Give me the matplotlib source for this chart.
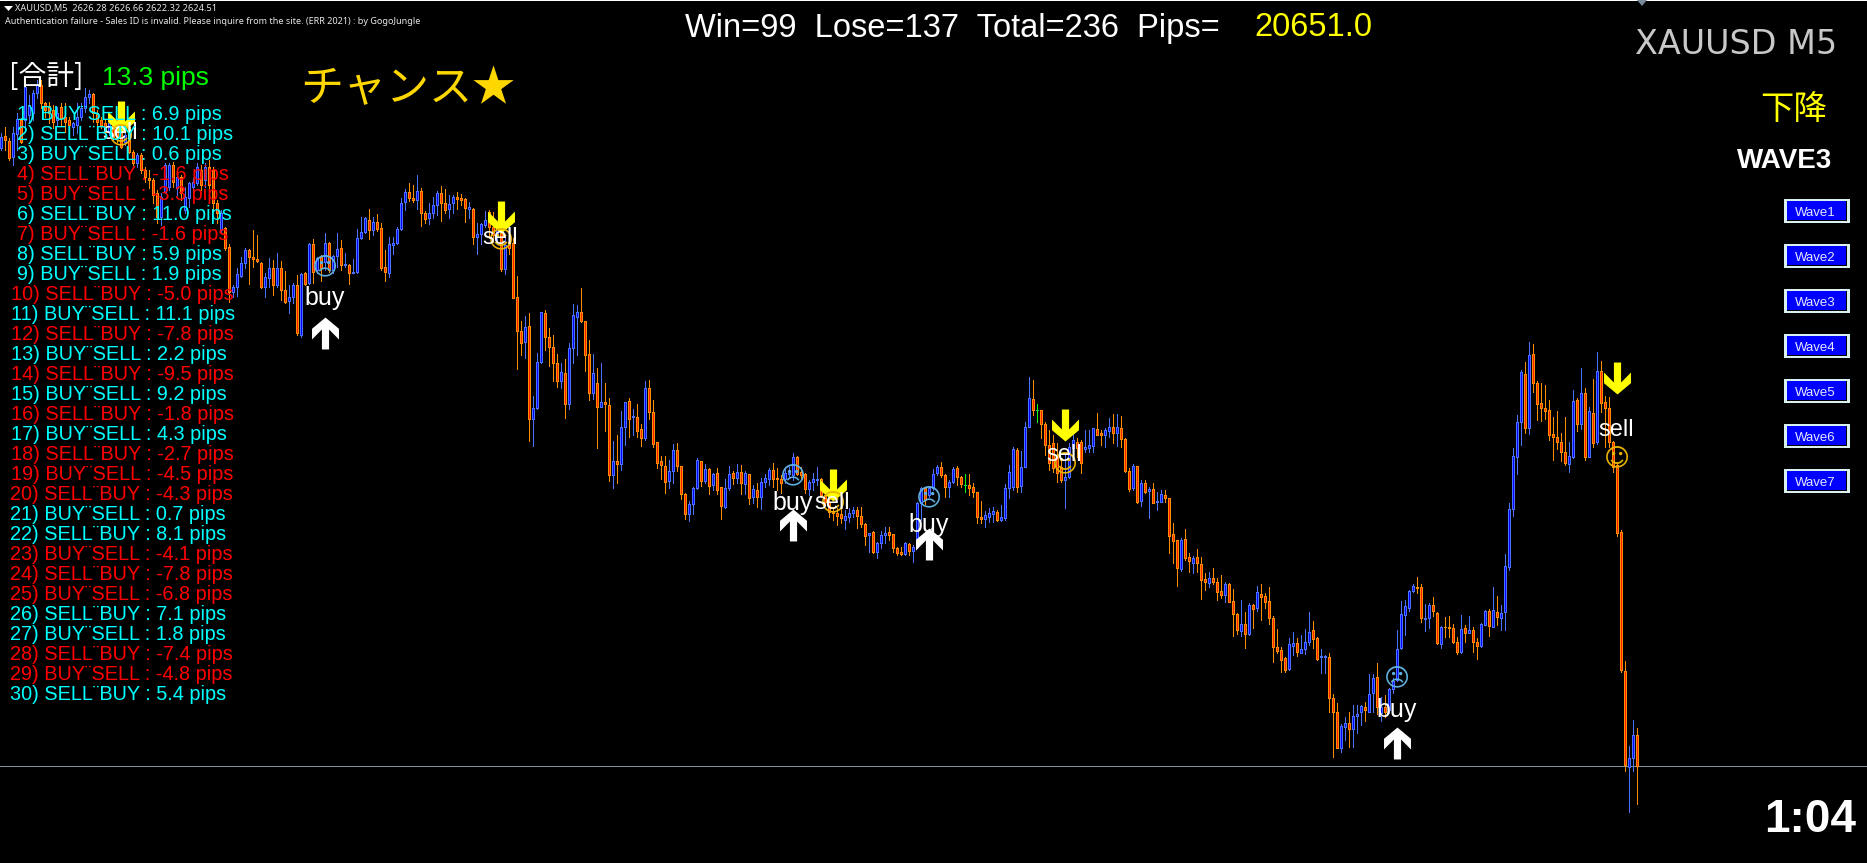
import matplotlib
matplotlib.use('Agg')
import numpy as np
import matplotlib.pyplot as plt
from matplotlib.patches import Rectangle, Polygon

# XAUUSD M5 candles, one value per bar (10 per row)
opens = [
    2659.81, 2660.52, 2660.25, 2659.34, 2660.63, 2661.43, 2661.43, 2661.72, 2661.83, 2662.96,
    2663.43, 2662.39, 2662.23, 2662.0, 2661.43, 2662.19, 2661.62, 2661.43, 2661.01, 2661.15,
    2661.62, 2662.1, 2662.73, 2662.92, 2661.81, 2661.43, 2661.24, 2660.77, 2661.15, 2661.15,
    2660.77, 2660.19, 2661.05, 2659.62, 2658.96, 2659.43, 2658.58, 2658.1, 2658.0, 2657.24,
    2655.91, 2657.34, 2657.62, 2658.86, 2657.53, 2658.2, 2656.29, 2656.96, 2657.62, 2657.81,
    2658.58, 2658.0, 2658.77, 2658.58, 2656.67, 2655.14, 2655.24, 2654.19, 2651.62, 2651.9,
    2652.52, 2653.24, 2654.0, 2653.58, 2653.5, 2653.28, 2651.9, 2652.38, 2653.0, 2652.0,
    2653.0, 2651.71, 2651.1, 2651.29, 2652.0, 2649.14, 2652.67, 2652.09, 2654.34, 2652.86,
    2653.62, 2653.33, 2654.42, 2652.85, 2653.66, 2654.09, 2653.14, 2653.14, 2652.71, 2652.76,
    2654.7, 2655.05, 2655.71, 2655.14, 2655.62, 2655.24, 2653.05, 2652.7, 2654.3, 2654.38,
    2655.18, 2656.72, 2657.29, 2656.95, 2656.85, 2657.39, 2656.14, 2655.85, 2656.09, 2656.57,
    2657.28, 2656.71, 2656.32, 2656.71, 2657.05, 2656.95, 2656.9, 2656.37, 2656.32, 2654.72,
    2654.91, 2655.43, 2656.19, 2655.33, 2654.76, 2654.95, 2652.9, 2654.47, 2654.42, 2651.3,
    2649.39, 2648.76, 2649.66, 2644.33, 2644.96, 2647.62, 2650.38, 2649.01, 2648.44, 2647.53,
    2646.54, 2646.96, 2645.2, 2648.42, 2650.19, 2650.44, 2649.93, 2648.04, 2645.85, 2646.38,
    2645.05, 2645.3, 2645.13, 2641.16, 2641.93, 2641.79, 2643.91, 2645.36, 2644.44, 2644.44,
    2643.76, 2643.28, 2646.1, 2644.73, 2643.01, 2641.93, 2641.64, 2640.82, 2641.39, 2642.56,
    2641.64, 2640.04, 2638.94, 2639.47, 2640.42, 2641.93, 2640.82, 2641.47, 2640.59, 2641.24,
    2640.44, 2639.33, 2640.38, 2641.24, 2640.99, 2641.32, 2640.65, 2641.18, 2639.87, 2640.28,
    2639.9, 2640.76, 2640.93, 2641.43, 2640.95, 2640.89, 2640.89, 2641.2, 2641.14, 2642.15,
    2641.33, 2641.2, 2640.32, 2640.76, 2640.86, 2640.89, 2639.99, 2639.62, 2639.05, 2638.95,
    2638.89, 2638.57, 2638.76, 2638.99, 2639.14, 2638.8, 2638.34, 2637.71, 2637.9, 2636.72,
    2637.24, 2637.71, 2637.87, 2637.75, 2636.99, 2636.72, 2636.63, 2637.2, 2636.82, 2637.05,
    2639.52, 2640.42, 2640.0, 2640.38, 2641.24, 2641.58, 2641.14, 2640.47, 2640.76, 2641.52,
    2641.05, 2640.57, 2640.57, 2640.44, 2640.19, 2638.72, 2638.61, 2638.76, 2638.89, 2639.01,
    2638.57, 2638.67, 2640.38, 2640.44, 2642.57, 2640.51, 2641.62, 2643.9, 2645.47, 2644.86,
    2644.86, 2644.06, 2642.86, 2642.95, 2642.28, 2641.62, 2640.86, 2641.05, 2642.67, 2643.05,
    2643.05, 2642.61, 2642.67, 2642.82, 2643.75, 2643.56, 2643.43, 2643.67, 2643.87, 2643.52,
    2643.81, 2643.18, 2641.39, 2640.38, 2641.66, 2639.68, 2640.67, 2640.23, 2640.33, 2639.6,
    2639.62, 2640.0, 2639.81, 2637.76, 2637.43, 2635.77, 2637.47, 2636.44, 2636.14, 2636.44,
    2636.04, 2635.18, 2634.99, 2635.24, 2635.03, 2634.52, 2634.29, 2634.9, 2633.95, 2633.18,
    2632.25, 2632.61, 2632.06, 2633.7, 2633.56, 2634.33, 2634.25, 2633.93, 2632.96, 2631.3,
    2631.13, 2630.67, 2630.04, 2631.39, 2631.53, 2630.99, 2631.18, 2631.62, 2632.27, 2631.81,
    2630.73, 2630.73, 2630.73, 2628.42, 2627.58, 2625.56, 2626.77, 2626.96, 2626.61, 2627.39,
    2627.58, 2627.87, 2627.62, 2628.67, 2629.58, 2627.53, 2627.91, 2627.72, 2628.9, 2629.43,
    2631.24, 2633.15, 2633.56, 2634.54, 2634.76, 2634.73, 2632.9, 2632.96, 2633.72, 2633.28,
    2631.49, 2632.48, 2632.44, 2632.38, 2631.58, 2631.05, 2632.38, 2632.1, 2632.29, 2631.62,
    2631.37, 2632.57, 2633.37, 2632.48, 2633.34, 2632.99, 2633.3, 2635.91, 2639.18, 2642.19,
    2644.16, 2646.9, 2643.81, 2648.04, 2646.38, 2645.24, 2644.95, 2644.84, 2643.47, 2643.34,
    2643.01, 2642.44, 2641.77, 2642.19, 2645.41, 2644.06, 2645.81, 2642.19, 2644.67, 2643.03,
    2647.07, 2645.3, 2644.99, 2643.05, 2641.72, 2637.89, 2629.94, 2624.46, 2624.97, 2626.28,
]
highs = [
    2660.67, 2661.05, 2660.38, 2661.05, 2661.81, 2661.53, 2663.91, 2662.86, 2663.15, 2663.72,
    2663.72, 2662.48, 2662.48, 2662.29, 2662.19, 2662.38, 2662.38, 2661.62, 2661.34, 2662.38,
    2662.38, 2663.24, 2663.15, 2663.0, 2662.0, 2661.62, 2661.43, 2661.43, 2661.34, 2661.43,
    2661.05, 2661.15, 2661.15, 2659.72, 2659.53, 2659.53, 2658.77, 2658.58, 2658.1, 2657.43,
    2657.24, 2658.96, 2658.96, 2659.05, 2658.58, 2658.29, 2657.62, 2657.91, 2658.1, 2658.96,
    2658.86, 2658.96, 2659.15, 2658.77, 2656.86, 2656.28, 2655.33, 2654.34, 2652.0, 2652.95,
    2653.58, 2654.09, 2654.05, 2655.14, 2654.86, 2653.33, 2652.67, 2653.52, 2653.43, 2653.85,
    2653.38, 2652.8, 2652.0, 2652.09, 2652.57, 2652.67, 2652.76, 2654.42, 2654.61, 2653.62,
    2653.71, 2654.95, 2654.47, 2653.71, 2654.95, 2654.57, 2653.81, 2653.2, 2653.47, 2655.18,
    2655.86, 2655.86, 2656.32, 2655.9, 2656.05, 2655.52, 2654.0, 2654.76, 2654.76, 2655.33,
    2656.95, 2657.47, 2657.81, 2657.71, 2658.28, 2657.52, 2656.25, 2656.71, 2657.05, 2657.39,
    2657.66, 2657.47, 2657.14, 2657.14, 2657.33, 2657.2, 2656.95, 2656.76, 2656.38, 2655.52,
    2655.52, 2656.25, 2656.28, 2656.19, 2655.52, 2655.52, 2654.85, 2654.95, 2654.66, 2652.52,
    2649.95, 2650.23, 2650.38, 2645.66, 2648.1, 2650.48, 2650.57, 2649.53, 2649.15, 2648.06,
    2647.56, 2647.77, 2648.67, 2650.92, 2650.86, 2651.81, 2649.95, 2648.86, 2648.06, 2647.26,
    2647.53, 2646.38, 2645.53, 2643.09, 2643.43, 2644.8, 2645.3, 2645.53, 2644.9, 2645.2,
    2644.06, 2646.52, 2646.57, 2645.43, 2643.01, 2642.23, 2642.23, 2642.0, 2642.92, 2642.97,
    2641.64, 2640.1, 2639.66, 2640.46, 2642.12, 2641.93, 2641.76, 2641.55, 2641.26, 2641.55,
    2640.44, 2640.92, 2641.64, 2641.39, 2641.76, 2641.7, 2641.36, 2641.18, 2640.57, 2640.67,
    2640.95, 2641.18, 2641.52, 2641.81, 2641.52, 2641.14, 2641.52, 2641.58, 2642.42, 2642.23,
    2641.58, 2641.24, 2640.85, 2641.24, 2641.58, 2640.95, 2640.47, 2639.9, 2639.33, 2639.24,
    2639.24, 2639.14, 2639.24, 2639.33, 2639.33, 2639.33, 2638.38, 2637.85, 2637.96, 2637.33,
    2637.96, 2638.15, 2638.15, 2637.77, 2637.05, 2637.05, 2637.33, 2637.24, 2637.14, 2639.62,
    2640.47, 2640.47, 2640.47, 2641.47, 2641.71, 2641.9, 2641.2, 2640.85, 2641.62, 2641.66,
    2641.09, 2641.2, 2641.2, 2640.67, 2640.19, 2639.67, 2639.1, 2639.24, 2639.33, 2639.14,
    2639.43, 2640.63, 2641.71, 2642.76, 2642.67, 2642.53, 2644.19, 2646.76, 2646.57, 2645.2,
    2644.86, 2644.19, 2643.71, 2643.43, 2642.95, 2642.0, 2642.38, 2642.95, 2643.62, 2643.24,
    2643.14, 2643.71, 2643.71, 2643.81, 2644.7, 2643.71, 2643.81, 2644.38, 2644.62, 2644.62,
    2644.51, 2643.24, 2641.52, 2641.77, 2641.66, 2640.86, 2640.86, 2640.44, 2640.67, 2640.19,
    2640.29, 2640.29, 2639.81, 2638.38, 2637.43, 2637.53, 2638.04, 2636.67, 2636.52, 2636.9,
    2636.44, 2635.53, 2635.58, 2635.81, 2635.24, 2635.43, 2635.05, 2634.95, 2634.63, 2633.24,
    2634.0, 2633.32, 2633.81, 2633.77, 2634.8, 2634.92, 2634.38, 2634.73, 2633.09, 2632.35,
    2631.3, 2630.76, 2631.81, 2632.16, 2631.81, 2632.0, 2632.35, 2633.32, 2632.8, 2631.87,
    2631.18, 2630.86, 2630.96, 2628.63, 2628.1, 2626.9, 2627.34, 2627.58, 2628.0, 2628.0,
    2628.0, 2628.19, 2629.76, 2629.76, 2630.38, 2628.48, 2628.57, 2628.96, 2629.53, 2632.29,
    2633.95, 2634.0, 2634.57, 2634.92, 2635.3, 2634.92, 2633.77, 2633.81, 2634.15, 2633.34,
    2632.52, 2633.05, 2633.11, 2632.63, 2631.87, 2633.15, 2632.57, 2633.11, 2632.44, 2631.81,
    2632.67, 2633.43, 2633.47, 2634.73, 2634.23, 2633.72, 2636.63, 2639.53, 2642.67, 2644.57,
    2647.15, 2647.6, 2648.75, 2648.63, 2646.52, 2646.38, 2646.29, 2645.43, 2644.44, 2644.8,
    2643.56, 2644.44, 2643.03, 2646.0, 2645.53, 2647.24, 2646.1, 2645.01, 2646.61, 2648.17,
    2647.66, 2645.66, 2645.58, 2643.11, 2641.81, 2638.0, 2630.51, 2625.66, 2627.14, 2626.66,
]
lows = [
    2659.72, 2659.72, 2659.15, 2658.86, 2659.72, 2660.1, 2660.86, 2661.24, 2661.43, 2662.67,
    2662.1, 2661.62, 2661.24, 2660.96, 2661.15, 2661.15, 2660.77, 2660.58, 2660.58, 2660.67,
    2661.43, 2661.91, 2662.39, 2661.34, 2661.15, 2660.96, 2660.48, 2660.58, 2660.29, 2660.19,
    2659.81, 2660.0, 2659.53, 2658.86, 2658.77, 2658.39, 2657.91, 2657.53, 2656.67, 2655.53,
    2655.43, 2657.24, 2657.43, 2657.62, 2656.96, 2656.86, 2656.1, 2656.48, 2657.34, 2657.72,
    2657.43, 2657.62, 2656.86, 2656.29, 2655.52, 2654.95, 2654.0, 2651.05, 2651.33, 2651.38,
    2652.47, 2653.0, 2652.05, 2653.05, 2653.33, 2651.81, 2651.29, 2651.9, 2651.43, 2651.9,
    2651.14, 2650.95, 2650.42, 2650.95, 2649.14, 2649.05, 2652.0, 2652.05, 2652.09, 2652.67,
    2652.24, 2652.85, 2652.76, 2652.67, 2653.05, 2652.85, 2653.05, 2652.05, 2652.67, 2652.71,
    2654.61, 2654.95, 2654.61, 2654.85, 2655.1, 2652.85, 2652.24, 2652.44, 2653.8, 2654.34,
    2655.14, 2656.28, 2656.81, 2656.76, 2656.32, 2655.37, 2655.52, 2655.48, 2655.81, 2656.0,
    2655.67, 2656.09, 2655.85, 2656.14, 2656.32, 2656.57, 2655.62, 2655.81, 2654.34, 2653.8,
    2654.34, 2655.33, 2654.67, 2654.47, 2654.47, 2652.81, 2652.63, 2653.8, 2651.24, 2647.22,
    2648.0, 2647.85, 2643.11, 2642.82, 2644.9, 2647.56, 2648.29, 2647.37, 2646.54, 2646.19,
    2646.14, 2644.42, 2644.94, 2647.56, 2648.0, 2649.89, 2647.11, 2645.43, 2645.47, 2642.71,
    2645.05, 2643.68, 2640.82, 2640.42, 2640.71, 2641.43, 2642.86, 2643.34, 2643.43, 2643.34,
    2642.82, 2643.15, 2644.36, 2642.77, 2641.55, 2640.92, 2640.14, 2640.42, 2640.71, 2641.39,
    2639.77, 2638.63, 2638.54, 2638.92, 2640.35, 2640.54, 2640.71, 2640.08, 2640.31, 2640.08,
    2638.63, 2639.26, 2640.31, 2640.63, 2640.71, 2640.08, 2640.08, 2639.49, 2639.52, 2639.33,
    2639.18, 2640.47, 2640.57, 2640.47, 2640.28, 2640.09, 2640.66, 2640.95, 2640.86, 2641.14,
    2640.86, 2640.09, 2640.0, 2640.28, 2640.57, 2639.9, 2639.43, 2638.76, 2638.57, 2638.28,
    2638.38, 2638.04, 2638.47, 2638.72, 2638.09, 2638.19, 2637.14, 2636.76, 2636.66, 2636.42,
    2636.95, 2637.24, 2637.43, 2636.72, 2636.57, 2636.57, 2636.57, 2636.57, 2636.19, 2636.95,
    2638.57, 2639.48, 2639.9, 2640.28, 2641.14, 2641.05, 2639.87, 2639.9, 2640.66, 2640.57,
    2640.47, 2640.19, 2640.0, 2639.9, 2638.42, 2638.38, 2638.19, 2638.47, 2638.47, 2638.53,
    2638.53, 2638.57, 2639.81, 2640.28, 2640.19, 2640.19, 2641.58, 2643.87, 2644.57, 2644.19,
    2643.24, 2642.28, 2641.43, 2641.33, 2640.76, 2640.76, 2639.24, 2640.95, 2642.47, 2642.19,
    2641.28, 2642.47, 2642.47, 2642.47, 2643.43, 2642.86, 2642.76, 2643.33, 2642.99, 2642.8,
    2642.76, 2641.33, 2640.24, 2640.28, 2639.56, 2639.37, 2640.14, 2638.67, 2639.53, 2639.15,
    2639.58, 2639.62, 2636.71, 2636.1, 2634.8, 2635.68, 2636.29, 2635.62, 2635.56, 2635.62,
    2634.06, 2634.57, 2634.76, 2634.92, 2634.0, 2634.1, 2633.91, 2633.87, 2631.96, 2632.06,
    2631.96, 2631.28, 2632.0, 2632.38, 2633.39, 2632.86, 2633.53, 2632.63, 2630.48, 2630.96,
    2629.91, 2629.91, 2630.0, 2630.86, 2630.82, 2630.96, 2630.92, 2631.43, 2631.24, 2630.57,
    2629.85, 2629.85, 2627.58, 2625.05, 2625.53, 2625.34, 2626.0, 2625.62, 2625.62, 2626.38,
    2626.86, 2627.09, 2627.58, 2627.62, 2627.47, 2627.11, 2627.34, 2627.53, 2628.67, 2629.39,
    2631.2, 2632.0, 2633.39, 2634.48, 2634.38, 2632.77, 2632.23, 2632.38, 2633.09, 2631.49,
    2631.28, 2631.91, 2631.91, 2631.53, 2630.9, 2630.96, 2631.62, 2632.1, 2631.05, 2630.63,
    2631.33, 2632.57, 2631.94, 2632.44, 2632.57, 2632.29, 2632.29, 2635.72, 2638.82, 2641.2,
    2642.86, 2643.53, 2643.49, 2645.91, 2644.29, 2644.23, 2644.35, 2643.15, 2642.0, 2642.63,
    2641.95, 2641.72, 2641.3, 2642.14, 2643.66, 2643.77, 2642.0, 2642.15, 2642.76, 2642.92,
    2644.73, 2642.76, 2642.76, 2641.34, 2637.66, 2629.89, 2624.23, 2621.89, 2624.23, 2622.32,
]
closes = [
    2660.48, 2660.29, 2659.24, 2660.67, 2661.47, 2660.19, 2663.34, 2662.29, 2662.98, 2663.43,
    2662.39, 2662.0, 2661.81, 2661.34, 2661.81, 2661.53, 2661.34, 2661.15, 2661.24, 2661.62,
    2662.14, 2662.77, 2662.92, 2661.81, 2661.34, 2661.15, 2660.77, 2661.24, 2660.48, 2660.38,
    2659.91, 2660.58, 2659.62, 2658.96, 2659.43, 2658.58, 2658.2, 2658.0, 2657.15, 2655.91,
    2657.05, 2658.86, 2658.86, 2657.91, 2658.2, 2657.24, 2657.05, 2657.81, 2657.91, 2658.77,
    2657.72, 2658.77, 2657.72, 2656.67, 2656.09, 2656.09, 2654.09, 2651.62, 2651.9, 2652.62,
    2653.24, 2654.0, 2653.58, 2653.5, 2653.38, 2651.9, 2652.47, 2653.0, 2652.0, 2653.0,
    2651.71, 2651.0, 2651.29, 2652.0, 2649.24, 2652.61, 2652.05, 2654.34, 2652.76, 2653.52,
    2652.95, 2654.42, 2652.85, 2653.66, 2654.04, 2653.14, 2653.18, 2652.71, 2652.76, 2654.7,
    2655.05, 2655.81, 2655.14, 2655.62, 2655.18, 2652.95, 2652.76, 2654.34, 2654.38, 2655.18,
    2656.66, 2657.33, 2656.95, 2656.85, 2657.39, 2656.14, 2655.79, 2656.14, 2656.57, 2657.28,
    2656.71, 2656.28, 2656.61, 2657.05, 2656.9, 2656.87, 2656.38, 2656.44, 2654.76, 2654.91,
    2655.47, 2655.71, 2655.33, 2654.85, 2655.24, 2652.91, 2654.28, 2654.1, 2651.28, 2649.39,
    2648.71, 2649.58, 2644.36, 2644.96, 2647.58, 2650.44, 2649.05, 2648.48, 2647.56, 2646.54,
    2647.01, 2645.2, 2648.38, 2650.27, 2650.44, 2649.95, 2648.02, 2645.85, 2646.96, 2645.05,
    2645.3, 2645.18, 2641.13, 2641.93, 2641.79, 2643.87, 2645.3, 2644.36, 2644.52, 2643.68,
    2643.28, 2646.1, 2644.76, 2642.94, 2641.85, 2641.74, 2640.76, 2641.36, 2642.56, 2641.68,
    2640.08, 2638.94, 2639.47, 2640.38, 2641.98, 2640.82, 2641.47, 2640.54, 2641.18, 2640.31,
    2639.39, 2640.38, 2641.18, 2640.99, 2641.32, 2640.71, 2641.24, 2639.81, 2640.32, 2639.87,
    2640.76, 2640.95, 2641.43, 2640.89, 2640.89, 2640.66, 2641.24, 2641.28, 2642.15, 2641.2,
    2641.14, 2640.32, 2640.76, 2640.89, 2640.93, 2639.99, 2639.62, 2639.05, 2638.95, 2638.8,
    2638.66, 2638.8, 2638.99, 2639.14, 2638.8, 2638.34, 2637.67, 2637.81, 2636.72, 2637.24,
    2637.71, 2637.85, 2637.71, 2636.99, 2636.71, 2636.63, 2637.24, 2636.82, 2637.05, 2639.52,
    2640.38, 2639.71, 2640.38, 2641.18, 2641.58, 2641.14, 2640.47, 2640.76, 2641.48, 2641.01,
    2640.63, 2640.57, 2640.42, 2640.19, 2638.72, 2638.61, 2638.86, 2638.95, 2639.08, 2638.57,
    2638.76, 2640.38, 2641.29, 2642.61, 2640.44, 2641.62, 2643.87, 2645.52, 2644.86, 2644.86,
    2644.06, 2642.86, 2641.81, 2641.52, 2641.24, 2640.86, 2641.05, 2642.76, 2643.14, 2642.67,
    2641.81, 2642.72, 2642.86, 2643.81, 2643.43, 2643.43, 2643.71, 2643.87, 2643.52, 2643.87,
    2643.18, 2641.39, 2640.32, 2641.66, 2639.62, 2640.67, 2640.19, 2640.35, 2639.56, 2639.64,
    2640.04, 2639.81, 2637.68, 2637.39, 2635.81, 2637.43, 2636.38, 2636.25, 2636.38, 2636.14,
    2635.14, 2635.05, 2635.24, 2635.05, 2634.48, 2634.29, 2634.9, 2633.91, 2633.18, 2632.29,
    2632.61, 2632.06, 2633.7, 2633.51, 2634.44, 2634.19, 2633.91, 2633.0, 2631.34, 2631.11,
    2630.57, 2630.0, 2631.47, 2631.53, 2631.05, 2631.18, 2631.62, 2632.16, 2631.76, 2630.61,
    2630.8, 2630.8, 2628.42, 2627.58, 2625.56, 2626.8, 2626.96, 2626.63, 2627.39, 2627.49,
    2627.95, 2627.72, 2628.61, 2629.53, 2627.91, 2627.91, 2627.62, 2628.9, 2629.39, 2631.18,
    2633.18, 2633.66, 2634.52, 2634.8, 2634.67, 2632.96, 2632.96, 2633.72, 2633.39, 2631.53,
    2632.48, 2632.44, 2632.38, 2631.58, 2631.05, 2632.33, 2632.14, 2632.29, 2631.62, 2631.39,
    2632.61, 2633.39, 2632.52, 2633.43, 2633.05, 2633.24, 2635.95, 2639.18, 2642.23, 2644.16,
    2647.01, 2643.85, 2647.98, 2646.38, 2645.18, 2644.95, 2644.82, 2643.43, 2643.34, 2643.05,
    2642.44, 2641.81, 2642.21, 2645.37, 2644.04, 2645.81, 2642.19, 2644.8, 2642.99, 2647.07,
    2645.27, 2644.99, 2643.05, 2641.62, 2637.85, 2630.0, 2624.57, 2624.97, 2626.28, 2624.51,
]

# the two green dojis
doji_bars = [241, 259]
doji_prices = [2640.57, 2644.86]

bid_price = 2624.51

# EA signals
buy_bars = [81, 198, 232, 349]
buy_arrow_prices = [2649.26, 2638.29, 2637.2, 2625.83]
buy_label_prices = [2651.23, 2639.57, 2638.26, 2627.69]
buy_face_prices = [2653.03, 2641.09, 2639.83, 2629.54]

sell_bars = [30, 125, 208, 266, 404]
sell_arrow_prices = [2661.6, 2655.89, 2640.57, 2644.0, 2646.69]
sell_label_prices = [2660.67, 2654.67, 2639.53, 2642.27, 2643.7]
sell_face_prices = [2660.5, 2654.57, 2639.54, 2641.77, 2642.11]

trade_sides = ['BUY¨SELL', 'SELL¨BUY'] * 15
trade_pips = [6.9, 10.1, 0.6, -1.6, -3.3, 11.0, -1.6, 5.9, 1.9, -5.0,
              11.1, -7.8, 2.2, -9.5, 9.2, -1.8, 4.3, -2.7, -4.5, -4.3,
              0.7, 8.1, -4.1, -7.8, -6.8, 7.1, 1.8, -7.4, -4.8, 5.4]

wave_labels = ['Wave1', 'Wave2', 'Wave3', 'Wave4', 'Wave5', 'Wave6', 'Wave7']

UP_EDGE = '#4a72ff'
DOWN_EDGE = '#ff8c00'
ARROW_DOWN = [(-3.6, 16), (3.6, 16), (3.6, -4), (13.5, 6), (13.5, -4.7), (0, -16),
              (-13.5, -4.7), (-13.5, 6), (-3.6, -4)]
ARROW_UP = [(x, -y) for x, y in ARROW_DOWN]

W, H = 1867, 863
SANS = 'Liberation Sans'
CJK = ['Noto Sans CJK JP', 'DejaVu Sans']

fig = plt.figure(figsize=(W / 100, H / 100), dpi=100, facecolor='black')

# price panel: 4 px per bar, 17.5 px per dollar
ax = fig.add_axes([0, 0, 1, 1], facecolor='black')
ax.set_xlim(-0.125, (W - 0.5) / 4)
ax.set_ylim(2650 - (H - 320) / 17.5, 2650 + 320 / 17.5)
ax.axis('off')

o, h, l, c = map(np.array, (opens, highs, lows, closes))
bars = np.arange(len(o))
up = c >= o
px = 0.72

ax.axhline(bid_price, color='#8090a0', lw=px, zorder=1)
ax.vlines(bars[up], l[up], h[up], color=UP_EDGE, lw=px, antialiased=False, zorder=2)
ax.vlines(bars[~up], l[~up], h[~up], color=DOWN_EDGE, lw=px, antialiased=False, zorder=2)
ax.bar(bars[up], (c - o)[up], bottom=o[up], width=0.5, facecolor='#0000ff', edgecolor=UP_EDGE,
       linewidth=px, antialiased=False, zorder=3)
ax.bar(bars[~up], (c - o)[~up], bottom=o[~up], width=0.5, facecolor='#ff2200', edgecolor=DOWN_EDGE,
       linewidth=px, antialiased=False, zorder=3)
for b, p in zip(doji_bars, doji_prices):
    ax.vlines(b, l[b], h[b], color='#00ff00', lw=px, antialiased=False, zorder=4)
    ax.bar(b, 0.02, bottom=p, width=0.5, facecolor='#00ff00', edgecolor='#00ff00', linewidth=px, zorder=4)

# signal marks
ax.plot(buy_bars, buy_arrow_prices, ls='none', marker=ARROW_UP, ms=23, mfc='white', mec='white', mew=0, zorder=6)
ax.plot(sell_bars, sell_arrow_prices, ls='none', marker=ARROW_DOWN, ms=23, mfc='#ffff00', mec='#ffff00', mew=0, zorder=6)
for b, p, q in zip(buy_bars, buy_label_prices, buy_face_prices):
    ax.text(b, q, '☹', color='#5fb0e0', fontsize=18, family='DejaVu Sans', ha='center', va='center', zorder=7)
    ax.text(b, p, 'buy', color='white', fontsize=18, family=SANS, ha='center', va='center', zorder=8)
for b, p, q in zip(sell_bars, sell_label_prices, sell_face_prices):
    ax.text(b, q, '☺', color='#e8b400', fontsize=18, family='DejaVu Sans', ha='center', va='center', zorder=7)
    ax.text(b, p, 'sell', color='white', fontsize=17, family=SANS, ha='center', va='center', zorder=8)

# overlay in screen pixels for the labels and buttons
ov = fig.add_axes([0, 0, 1, 1], zorder=5)
ov.set_xlim(0, W)
ov.set_ylim(H, 0)
ov.axis('off')
ov.patch.set_alpha(0)

ov.add_patch(Rectangle((0, 0), W, 1.5, fc='white', ec='none'))
ov.add_patch(Polygon([(4, 6), (13, 6), (8.5, 11)], fc='white', ec='none'))
ov.add_patch(Polygon([(1637, 0), (1647, 0), (1642, 6)], fc='#778899', ec='none'))

ov.text(15, 9, 'XAUUSD,M5  2626.28 2626.66 2622.32 2624.51', color='#e8e8e8', fontsize=6.6,
        family='Noto Sans', va='center')
ov.text(5, 22, 'Authentication failure - Sales ID is invalid. Please inquire from the site. (ERR 2021) : by GogoJungle',
        color='#e8e8e8', fontsize=6.5, family='Noto Sans', va='center')

ov.text(685, 28, 'Win=99  Lose=137  Total=236  Pips=', color='white', fontsize=23.5, family=SANS, va='center')
ov.text(1254, 28, '20651.0', color='#ffff00', fontsize=23.5, family=SANS, va='center')
ov.text(1635, 44, 'XAUUSD M5', color='#c8c8c8', fontsize=24, family='DejaVu Sans', va='center')
ov.text(1794, 109, '下降', color='#ffff00', fontsize=24, family=CJK, ha='center', va='center')
ov.text(1832, 161, 'WAVE3', color='white', fontsize=20, family=SANS, weight='bold', ha='right', va='center')

ov.text(9, 77, '[合計]', color='white', fontsize=20, family=CJK, va='center')
ov.text(102, 78, '13.3 pips', color='#00ff00', fontsize=19, family=SANS, va='center')
ov.text(300, 89, 'チャンス★', color='#ffd700', fontsize=31, family=CJK, va='center')

for i, (side, pips) in enumerate(zip(trade_sides, trade_pips)):
    n = i + 1
    x = 17 if n < 10 else (11 if n < 20 else 10)
    ov.text(x, 114 + 20 * i, f'{n}) {side} : {pips:.1f} pips', color='#00ffff' if pips >= 0 else '#ff0000',
            fontsize=14.3, family=SANS, va='center')

for i, label in enumerate(wave_labels):
    y = 199 + 45 * i
    ov.add_patch(Rectangle((1784, y), 66, 24, fc='#d8f0f0', ec='none'))
    ov.add_patch(Rectangle((1787, y + 2), 60, 20, fc='black', ec='none'))
    ov.add_patch(Rectangle((1787, y + 2), 59, 19, fc='#0000ff', ec='none'))
    ov.text(1815, y + 13.5, label, color='#e8e8ff', fontsize=9.5, family=SANS, ha='center', va='center')

ov.text(1856, 820, '1:04', color='white', fontsize=33, family=SANS, weight='bold', ha='right', va='center')

fig.savefig('out.png', dpi=100, facecolor='black')
